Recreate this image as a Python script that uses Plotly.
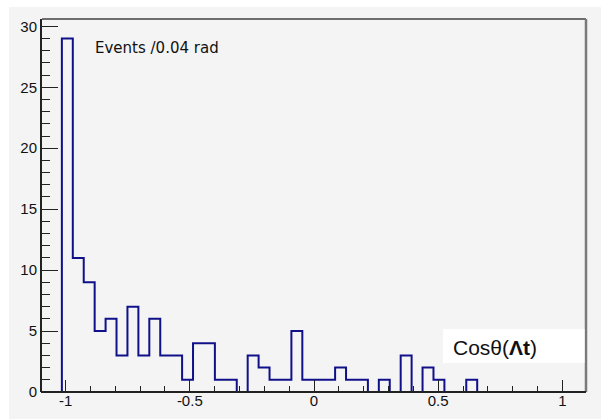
import plotly.graph_objects as go

# Histogram data (counts per bin)
bin_start = -1.015
bin_width = 0.044
counts = [29, 11, 9, 5, 6, 3, 7, 3, 6, 3,
          3, 1, 4, 4, 1, 1, 0, 3, 2, 1,
          1, 5, 1, 1, 1, 2, 1, 1, 0, 1,
          0, 3, 0, 2, 1, 0, 0, 1, 0, 0,
          0, 0, 0, 0, 0]

edges = [bin_start + i * bin_width for i in range(len(counts) + 1)]

# step outline (ROOT-like histogram)
xs = [edges[0]] + edges[:-1] + [edges[-1]]
ys = [0] + counts + [0]

fig = go.Figure()
fig.add_trace(go.Scatter(
    x=xs, y=ys, mode="lines", line=dict(shape="hv", color="#10108a", width=2),
    hoverinfo="skip", showlegend=False))

W, H = 601, 419
L, R, T, B = 42, 15, 19, 27
pw, ph = W - L - R, H - T - B

def px_x(p):
    return (p - L) / pw

def px_y(p):
    return (H - B - p) / ph

bg = "#f4f4f4"
shapes = [
    dict(type="rect", xref="paper", yref="paper", x0=px_x(9), x1=px_x(602),
         y0=px_y(420), y1=px_y(7), fillcolor=bg, line=dict(width=0), layer="below"),
    dict(type="line", xref="paper", yref="paper", x0=0, x1=1, y0=1, y1=1,
         line=dict(color="#6e6e6e", width=2)),
    dict(type="line", xref="paper", yref="paper", x0=1, x1=1, y0=0, y1=1,
         line=dict(color="#7a7a7a", width=2.5)),
    # bottom axis line drawn above the histogram's zero-level segments
    dict(type="line", xref="paper", yref="paper", x0=px_x(41), x1=1, y0=0, y1=0,
         line=dict(color="#222222", width=2.2)),
    dict(type="rect", xref="paper", yref="paper", x0=px_x(443), x1=px_x(584.5),
         y0=px_y(363), y1=px_y(329), fillcolor="white", line=dict(width=0)),
]

annotations = [
    dict(text="Events /0.04 rad", xref="paper", yref="paper",
         x=px_x(93), y=px_y(48), xanchor="left", yanchor="middle", showarrow=False,
         font=dict(family="DejaVu Sans", size=15, color="#111111")),
    dict(text="Cosθ(<b>Λt</b>)", xref="paper", yref="paper",
         x=px_x(451), y=px_y(347), xanchor="left", yanchor="middle", showarrow=False,
         font=dict(family="Liberation Sans, Arial", size=21, color="#111111")),
]

fig.update_layout(
    width=W, height=H,
    margin=dict(l=L, r=R, t=T, b=B, pad=0, autoexpand=False),
    paper_bgcolor="white", plot_bgcolor=bg,
    shapes=shapes, annotations=annotations,
    font=dict(family="Liberation Sans, Arial", size=15, color="#111111"),
    xaxis=dict(range=[-1.095, 1.095], tickmode="array", automargin=False,
               tickvals=[-1, -0.5, 0, 0.5, 1], ticktext=["-1", "-0.5", "0", "0.5", "1"],
               ticks="inside", ticklen=12, tickwidth=1.3, tickcolor="#222",
               minor=dict(dtick=0.1, tick0=0, ticks="inside", ticklen=6, tickwidth=1.3, tickcolor="#222"),
               showline=False, showgrid=False, zeroline=False,
               ticklabelstandoff=-2,
               tickfont=dict(size=15, color="#111")),
    yaxis=dict(range=[0, 30.6], tickmode="array", automargin=False,
               tickvals=[0, 5, 10, 15, 20, 25, 30],
               ticks="inside", ticklen=16, tickwidth=1.3, tickcolor="#222",
               minor=dict(dtick=1, tick0=0, ticks="inside", ticklen=8, tickwidth=1.3, tickcolor="#222"),
               showline=True, linecolor="#222", linewidth=2, showgrid=False, zeroline=False,
               tickfont=dict(size=15, color="#111")),
)

fig.write_html("out.html", config={"displayModeBar": False},
               post_script="document.body.style.margin='0';document.body.style.padding='0';")
